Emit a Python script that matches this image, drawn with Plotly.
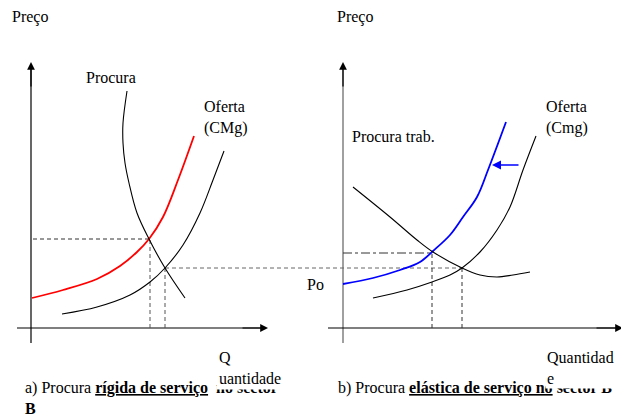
import plotly.graph_objects as go

# ---- Panel a: rigid demand (Q, P units measured from the panel origin) ----
a_supply_new_q = [1, 32, 66, 89, 106, 118, 132, 147, 163]
a_supply_new_p = [30, 38, 49, 62, 76, 89, 111, 148, 192]
a_supply_q = [31, 66, 99, 119, 134, 152, 169, 182, 193]
a_supply_p = [14, 21, 33, 46, 60, 83, 115, 148, 177]
a_demand_q = [96, 92, 92, 94, 98, 106, 118, 134, 154]
a_demand_p = [237, 205, 185, 165, 145, 115, 89, 60, 30]
a_eq_new = (119, 89)
a_eq_old = (134, 60)

# ---- Panel b: elastic demand ----
b_supply_new_q = [0, 30, 57, 77, 90, 107, 120, 134, 145, 163]
b_supply_new_p = [44, 50, 58, 66, 77, 93, 111, 131, 158, 206]
b_supply_q = [30, 64, 89, 107, 119, 137, 154, 167, 180, 193]
b_supply_p = [30, 38, 46, 53, 60, 76, 98, 121, 158, 192]
b_demand_q = [10, 47, 74, 90, 119, 137, 154, 170, 187]
b_demand_p = [141, 111, 88, 76, 60, 53, 51, 53, 56]
b_eq_new = (89, 75)
b_eq_old = (119, 60)
b_shift_from = (177, 163)
b_shift_to = (149, 163)

FONT = "Liberation Serif"
fig = go.Figure()

def curve(q, p, color, width, xaxis="x"):
    fig.add_trace(go.Scatter(x=q, y=p, mode="lines", xaxis=xaxis,
                             line=dict(color=color, width=width, shape="spline", smoothing=1.0),
                             hoverinfo="skip", showlegend=False))

curve(a_supply_new_q, a_supply_new_p, "#ff0000", 1.8)
curve(a_supply_q, a_supply_p, "#000000", 1.1)
curve(a_demand_q, a_demand_p, "#000000", 1.1)
curve(b_supply_new_q, b_supply_new_p, "#0000ff", 1.8, "x2")
curve(b_supply_q, b_supply_p, "#000000", 1.1, "x2")
curve(b_demand_q, b_demand_p, "#000000", 1.1, "x2")

shapes = []
def seg(xref, x0, y0, x1, y1, color="#000", width=1, dash="solid"):
    shapes.append(dict(type="line", xref=xref, yref="y", x0=x0, y0=y0, x1=x1, y1=y1,
                       line=dict(color=color, width=width, dash=dash), layer="below"))

# axes (panel a)
seg("x", 0, -15, 0, 262, "#000", 1.2)
seg("x", -14, 0, 232, 0, "#000", 1.2)
# axes (panel b)
seg("x2", 0, -15, 0, 262, "#808080", 1.5)
seg("x2", -15, 0, 274, 0, "#000", 1.2)

# guide lines panel a
seg("x", 2, a_eq_new[1], a_eq_new[0], a_eq_new[1], "#333", 1, "4px,3px")
seg("x", a_eq_new[0], 0, a_eq_new[0], a_eq_new[1], "#555", 1, "4px,3px")
seg("x", a_eq_old[0], 0, a_eq_old[0], a_eq_old[1], "#555", 1, "4px,3px")
# long horizontal at old price linking both panels
seg("x2", a_eq_old[0] + 31 - 343, a_eq_old[1], b_eq_old[0], b_eq_old[1], "#666", 1, "4px,3px")
# guide lines panel b
seg("x2", 0, b_eq_new[1], b_eq_new[0], b_eq_new[1], "#333", 1, "dashdot")
seg("x2", b_eq_new[0], 0, b_eq_new[0], b_eq_new[1], "#333", 1, "4px,3px")
seg("x2", b_eq_old[0], 0, b_eq_old[0], b_eq_old[1], "#333", 1, "4px,3px")

ann = []
def arrow(xref, x, y, ax, ay, color, width=1.2, size=1.3):
    ann.append(dict(xref=xref, yref="y", axref=xref, ayref="y", x=x, y=y, ax=ax, ay=ay,
                    text="", showarrow=True, arrowhead=2, arrowsize=size,
                    arrowwidth=width, arrowcolor=color))

arrow("x", 0, 266, 0, 240, "#000")
arrow("x", 237, 0, 210, 0, "#000")
arrow("x2", 0, 266, 0, 240, "#000")
arrow("x2", 280, 0, 252, 0, "#000")
arrow("x2", b_shift_to[0], b_shift_to[1], b_shift_from[0], b_shift_from[1], "#0000ff", 1.5, 1.2)

def text(xref, x, y, t, bg=None, pad=2):
    d = dict(xref=xref, yref="y", x=x, y=y, text=t, showarrow=False,
             xanchor="left", yanchor="middle", align="left",
             font=dict(family=FONT, size=16, color="#000"))
    if bg:
        d["bgcolor"] = bg
        d["borderpad"] = pad
    ann.append(d)

text("x", -21, 311, "Preço")
text("x", 53, 251, "Procura")
text("x", 171, 211, "Oferta<br>(CMg)")
text("x2", -8, 311, "Preço")
text("x2", 7, 192, "Procura trab.")
text("x2", 201, 211, "Oferta<br>(Cmg)")
text("x2", -38, 44, "Po")
text("x", -8, -70, "a) Procura <b><u>rígida de serviço</u></b>  <b>no sector</b><br><b>B</b>")
text("x2", -7, -60, "b) Procura <b><u>elástica de serviço no</u></b><b> sector B</b>")
text("x", 185, -40, "Q<br>uantidade", bg="white")
text("x2", 202, -40, "Quantidad<br>e", bg="white", pad=1)

fig.update_layout(
    width=621, height=418, margin=dict(l=0, r=0, t=0, b=0),
    paper_bgcolor="white", plot_bgcolor="white",
    xaxis=dict(range=[-31, 590], visible=False, fixedrange=True),
    xaxis2=dict(range=[-343, 278], visible=False, overlaying="x", fixedrange=True),
    yaxis=dict(range=[-90, 328], visible=False, fixedrange=True),
    shapes=shapes, annotations=ann, showlegend=False,
)

fig.write_html("out.html", config={"displayModeBar": False},
               post_script="document.body.style.margin='0';document.body.style.overflow='hidden';")
